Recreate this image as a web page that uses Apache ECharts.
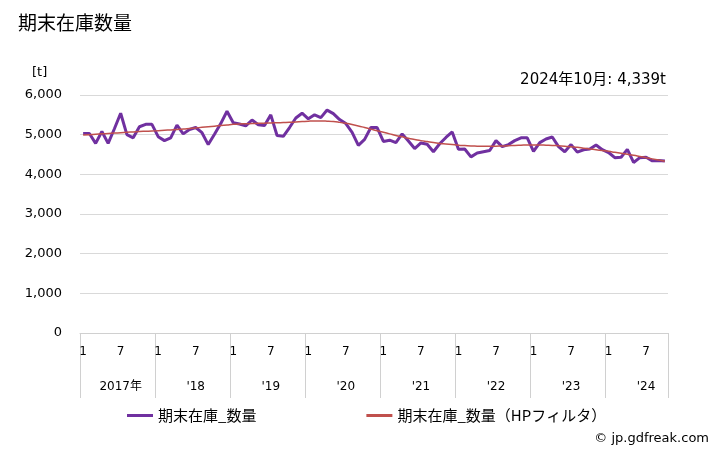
<!DOCTYPE html>
<html><head><meta charset="utf-8">
<script src="https://cdn.jsdelivr.net/npm/echarts@6/dist/echarts.min.js"></script>
<style>html,body{margin:0;padding:0;background:#fff}#c{width:728px;height:450px}</style>
</head><body><div id="c"></div>
<script>
var years = [2017, 2018, 2019, 2020, 2021, 2022, 2023, 2024];
var yearLabels = ['2017年', "'18", "'19", "'20", "'21", "'22", "'23", "'24"];
var lastMonth = 10;
var stock = [
  5030, 5030, 4780, 5080, 4780, 5150, 5540, 5000, 4920, 5200, 5260, 5260,
  4950, 4850, 4920, 5240, 5020, 5130, 5180, 5050, 4750, 5010, 5280, 5590,
  5300, 5270, 5220, 5370, 5250, 5230, 5500, 4980, 4960, 5180, 5420, 5540,
  5400, 5500, 5430, 5620, 5530, 5380, 5280, 5060, 4730, 4880, 5180, 5180,
  4830, 4860, 4800, 5020, 4840, 4650, 4790, 4760, 4570, 4770, 4930, 5070,
  4630, 4640, 4440, 4540, 4570, 4600, 4850, 4700, 4750, 4850, 4920, 4920,
  4580, 4800, 4890, 4940, 4700, 4570, 4750, 4560, 4620, 4640, 4740, 4620,
  4550, 4420, 4430, 4630, 4300, 4420, 4430, 4340, 4350, 4339
];
var hp = [
  4990, 5000, 5010, 5020, 5030, 5040, 5050, 5060, 5070, 5080, 5085, 5090,
  5100, 5110, 5120, 5130, 5140, 5155, 5170, 5185, 5200, 5215, 5230, 5245,
  5260, 5270, 5275, 5280, 5285, 5290, 5295, 5300, 5305, 5310, 5320, 5330,
  5340, 5345, 5345, 5340, 5330, 5310, 5285, 5255, 5220, 5180, 5140, 5100,
  5060, 5020, 4980, 4945, 4910, 4880, 4850, 4825, 4800, 4780, 4765, 4750,
  4735, 4725, 4715, 4710, 4705, 4705, 4710, 4715, 4720, 4730, 4735, 4740,
  4740, 4740, 4735, 4730, 4720, 4710, 4695, 4680, 4660, 4640, 4620, 4600,
  4580, 4555, 4530, 4505, 4480, 4450, 4420, 4390, 4360, 4330
];
var yTicks = [0, 1000, 2000, 3000, 4000, 5000, 6000];

var cats = [], monthOf = [], yearIdx = [];
years.forEach(function (y, yi) {
  var n = (yi === years.length - 1) ? lastMonth : 12;
  for (var m = 1; m <= n; m++) { cats.push(y + '-' + m); monthOf.push(m); yearIdx.push(yi); }
});

var font = '"DejaVu Sans", "Noto Sans CJK JP", sans-serif';
var cjk = '"Noto Sans CJK JP", sans-serif';
var chart = echarts.init(document.getElementById('c'), null, {renderer: 'canvas'});
chart.setOption({
  animation: false,
  textStyle: {fontFamily: font},
  title: [
    {text: '期末在庫数量', left: 13, top: 8, textStyle: {fontSize: 19, fontWeight: 'normal', color: '#000', fontFamily: cjk}},
    {text: '[t]', left: 27, top: 61, textStyle: {fontSize: 13, fontWeight: 'normal', color: '#000', fontFamily: font}},
    {text: '2024年10月: 4,339t', right: 57, top: 68, textStyle: {fontSize: 15, fontWeight: 'normal', color: '#000', fontFamily: font}},
    {text: '© jp.gdfreak.com', right: 14, top: 427, textStyle: {fontSize: 13, fontWeight: 'normal', color: '#000', fontFamily: font}}
  ],
  legend: {
    bottom: 22, left: 122, itemGap: 110, itemWidth: 26, itemHeight: 3,
    icon: 'rect',
    textStyle: {fontSize: 15, color: '#000', fontFamily: cjk},
    data: ['期末在庫_数量', '期末在庫_数量（HPフィルタ）']
  },
  grid: {left: 80, right: 60, top: 95, bottom: 117, containLabel: false},
  xAxis: [{
    type: 'category', data: cats, boundaryGap: true,
    axisLine: {lineStyle: {color: '#d0d0d0'}},
    axisTick: {show: true, length: 65, lineStyle: {color: '#d0d0d0'},
      interval: function (i) { return monthOf[i] === 1; }},
    axisLabel: {interval: function (i) { return monthOf[i] === 1 || monthOf[i] === 7; },
      formatter: function (v, i) { return String(monthOf[i]); },
      fontSize: 12, color: '#000', margin: 13, fontFamily: font},
    splitLine: {show: false}
  }, {
    type: 'category', data: cats, boundaryGap: true, position: 'bottom', offset: 40,
    axisLine: {show: false}, axisTick: {show: false},
    axisLabel: {interval: function (i) { return monthOf[i] === 7; },
      formatter: function (v, i) { return yearLabels[yearIdx[i]]; },
      fontSize: 12, color: '#000', fontFamily: font}
  }],
  yAxis: {
    type: 'value', min: 0, max: 6000, interval: 1000,
    axisLine: {show: false}, axisTick: {show: false},
    axisLabel: {fontSize: 13, color: '#000', margin: 18, fontFamily: font,
      formatter: function (v) { return yTicks.indexOf(v) >= 0 ? v.toLocaleString('en-US') : ''; }},
    splitLine: {lineStyle: {color: '#d9d9d9'}}
  },
  series: [{
    name: '期末在庫_数量', type: 'line', data: stock, xAxisIndex: 0,
    symbol: 'none', lineStyle: {color: '#7030A0', width: 3}, itemStyle: {color: '#7030A0'}
  }, {
    name: '期末在庫_数量（HPフィルタ）', type: 'line', data: hp, xAxisIndex: 0, smooth: true,
    symbol: 'none', lineStyle: {color: '#C0504D', width: 1.5}, itemStyle: {color: '#C0504D'}
  }]
});
</script></body></html>
